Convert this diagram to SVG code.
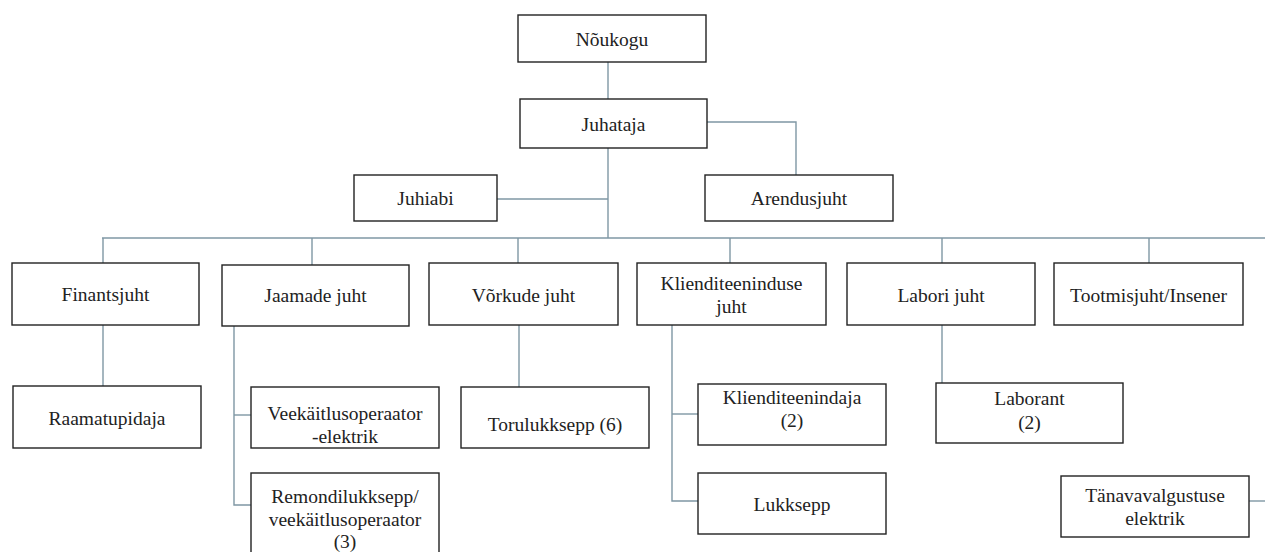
<svg xmlns="http://www.w3.org/2000/svg" width="1265" height="552" viewBox="0 0 1265 552">
<style>
.box{fill:#fff;stroke:#222;stroke-width:1.4}
.con{fill:none;stroke:#7f97a4;stroke-width:1.4}
</style>
<rect width="1265" height="552" fill="#fff"/>
<g id="connectors" class="con">
<path d="M608 62V99"/>
<path d="M707 122H796V175"/>
<path d="M608 148V238"/>
<path d="M497 199H608"/>
<path d="M102 238H1265"/>
<path d="M103 238V263"/><path d="M312 238V265"/><path d="M518 238V263"/><path d="M730 238V263"/><path d="M942 238V263"/><path d="M1149 238V263"/>
<path d="M103 325V386"/>
<path d="M234 326V505H251"/><path d="M234 415H251"/>
<path d="M519 325V387"/>
<path d="M672 325V501H698"/><path d="M672 414H698"/>
<path d="M942 325V383"/>
<path d="M1249 501H1265"/>
</g>
<g id="nodes" font-family="Liberation Serif, Times New Roman, serif" font-size="19.5" fill="#222" text-anchor="middle">
<g id="n-noukogu"><rect class="box" x="518" y="15" width="188" height="47"/><text x="612" y="46">Nõukogu</text></g>
<g id="n-juhataja"><rect class="box" x="520" y="99" width="187" height="49"/><text x="613.5" y="131">Juhataja</text></g>
<g id="n-juhiabi"><rect class="box" x="354" y="175" width="143" height="46"/><text x="425.5" y="205">Juhiabi</text></g>
<g id="n-arendusjuht"><rect class="box" x="705" y="175" width="188" height="46"/><text x="799" y="205">Arendusjuht</text></g>
<g id="n-finantsjuht"><rect class="box" x="12" y="263" width="187" height="62"/><text x="105.5" y="301">Finantsjuht</text></g>
<g id="n-jaamade"><rect class="box" x="222" y="265" width="187" height="61"/><text x="315.5" y="302">Jaamade juht</text></g>
<g id="n-vorkude"><rect class="box" x="429" y="263" width="189" height="62"/><text x="523.5" y="302">Võrkude juht</text></g>
<g id="n-klienditeeninduse"><rect class="box" x="637" y="263" width="189" height="62"/><text x="731.5" y="290">Klienditeeninduse</text><text x="731.5" y="313">juht</text></g>
<g id="n-labori"><rect class="box" x="847" y="263" width="188" height="62"/><text x="941" y="302">Labori juht</text></g>
<g id="n-tootmisjuht"><rect class="box" x="1054" y="263" width="189" height="62"/><text x="1148.5" y="302">Tootmisjuht/Insener</text></g>
<g id="n-raamatupidaja"><rect class="box" x="13" y="386" width="188" height="62"/><text x="107" y="425">Raamatupidaja</text></g>
<g id="n-veekaitlus"><rect class="box" x="251" y="387" width="188" height="61"/><text x="345" y="420">Veekäitlusoperaator</text><text x="345" y="443">-elektrik</text></g>
<g id="n-remondi"><rect class="box" x="251" y="473" width="188" height="90"/><text x="345" y="503">Remondilukksepp/</text><text x="345" y="526">veekäitlusoperaator</text><text x="345" y="548">(3)</text></g>
<g id="n-torulukksepp"><rect class="box" x="461" y="387" width="188" height="61"/><text x="555" y="431">Torulukksepp (6)</text></g>
<g id="n-klienditeenindaja"><rect class="box" x="698" y="384" width="188" height="61"/><text x="792" y="404">Klienditeenindaja</text><text x="792" y="427">(2)</text></g>
<g id="n-lukksepp"><rect class="box" x="698" y="473" width="188" height="61"/><text x="792" y="511">Lukksepp</text></g>
<g id="n-laborant"><rect class="box" x="936" y="383" width="187" height="60"/><text x="1029.5" y="405">Laborant</text><text x="1029.5" y="429">(2)</text></g>
<g id="n-tanavavalgustuse"><rect class="box" x="1061" y="476" width="188" height="61"/><text x="1155" y="502">Tänavavalgustuse</text><text x="1155" y="525">elektrik</text></g>
</g>
</svg>
